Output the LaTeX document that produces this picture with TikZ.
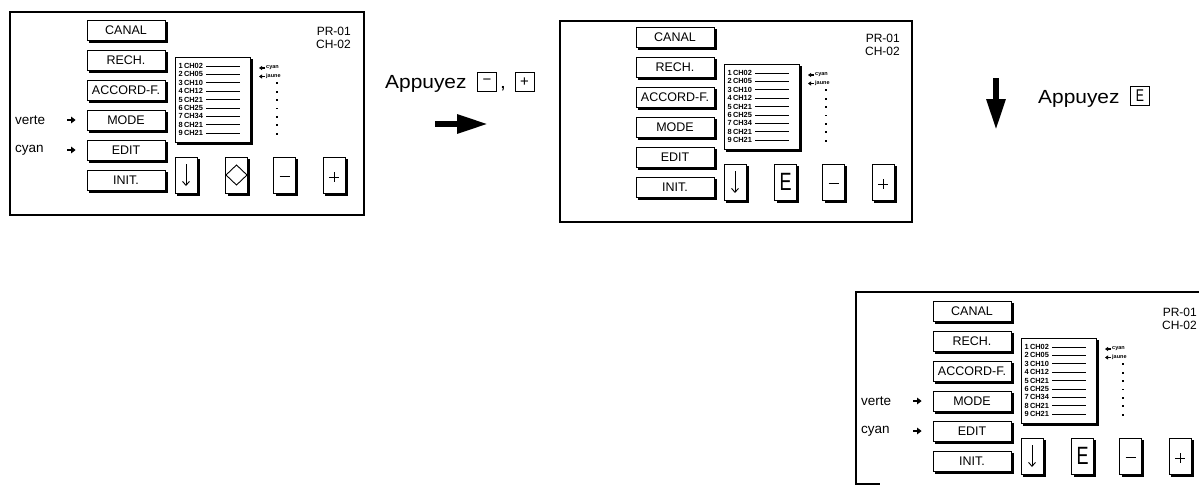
\documentclass[tikz,border=0pt]{standalone}
\usepackage{fontspec}
\setmainfont{Liberation Sans}
\newfontfamily\widefont[FakeStretch=1.1]{Liberation Sans}
\newfontfamily\narrowfont[FakeStretch=0.72]{Liberation Sans}
\usetikzlibrary{arrows.meta,calc}

\tikzset{
  frame/.style={line width=1.1pt},
  btn/.style={draw, line width=0.8pt, minimum width=78pt, minimum height=20pt, inner sep=0pt,
    font=\fontsize{12.5}{12.5}\selectfont},
  keybtn/.style={draw, line width=0.8pt, minimum width=22pt, minimum height=36pt, inner sep=0pt},
  listbox/.style={draw, line width=0.8pt, minimum width=75pt, minimum height=85pt, inner sep=0pt},
  listtxt/.style={inner sep=0pt, anchor=west, font=\fontsize{7.4}{7.4}\bfseries},
  listline/.style={line width=0.8pt},
  tinytxt/.style={inner sep=0pt, anchor=west, font=\fontsize{5.5}{5.5}\bfseries},
  tinyarrow/.style={line width=1.1pt, -{Triangle[length=3pt,width=4pt]}},
  lbl/.style={inner sep=0pt, anchor=west, font=\fontsize{13.5}{13.5}\selectfont},
  markarrow/.style={line width=1.8pt, -{Triangle[length=4.5pt,width=6.5pt]}, shorten >=11pt},
  prtxt/.style={inner sep=0pt, anchor=east, font=\fontsize{12}{12}\selectfont},
  shadowline/.style={line width=2.2pt},
  glyph/.style={line width=0.9pt},
  apptxt/.style={inner sep=0pt, anchor=base west, font=\widefont\fontsize{19}{19}\selectfont},
  smallkey/.style={draw, line width=0.9pt, minimum width=19pt, minimum height=19pt, inner sep=0pt,
    font=\fontsize{15}{15}\selectfont},
  bigarrow/.style={line width=6pt, -{Triangle[length=31pt,width=18pt]}},
}

\newcommand\shadowof[1]{%
  \draw[shadowline] ([xshift=1pt,yshift=-2.5pt]#1.north east) -- ([xshift=1pt,yshift=-1pt]#1.south east)
    -- ([xshift=2.5pt,yshift=-1pt]#1.south west);}

% #1 prefix, #2 dx, #3 dy, #4 content of second key
\newcommand\drawpanel[4]{%
\begin{scope}[shift={(#2,#3)}]
  \node[btn] (#1canal) at (126,30) {CANAL};
  \node[btn] (#1rech)  at (126,60) {RECH.};
  \node[btn] (#1acc)   at (126,90) {ACCORD-F.};
  \node[btn] (#1mode)  at (126,120) {MODE};
  \node[btn] (#1edit)  at (126,150) {EDIT};
  \node[btn] (#1init)  at (126,180) {INIT.};
  \foreach \b in {canal,rech,acc,mode,edit,init} {\shadowof{#1\b}}
  \node[listbox] (#1list) at (212.5,99.5) {};
  \shadowof{#1list}
  \foreach \n/\c [count=\i from 0] in {1/CH02,2/CH05,3/CH10,4/CH12,5/CH21,6/CH25,7/CH34,8/CH21,9/CH21} {
    \node[listtxt] (#1row\n) at (178.5,{66+8.4*\i}) {\n\,\c};
    \draw[listline] ([xshift=3pt]#1row\n.east) -- (240,{66+8.4*\i});
  }
  \node[tinytxt] (#1cy) at (266,68) {cyan};
  \node[tinytxt] (#1ja) at (266,76.5) {jaune};
  \draw[tinyarrow] ([xshift=-1pt]#1cy.west) -- ([xshift=-7pt]#1cy.west);
  \draw[tinyarrow] ([xshift=-1pt]#1ja.west) -- ([xshift=-7pt]#1ja.west);
  \foreach \i in {2,...,8} {\fill (276.3,{65.5+8.4*\i}) rectangle ++(1.6,1.8);}
  \node[keybtn] (#1down)  at (186,175) {};
  \node[keybtn,font=\narrowfont\fontsize{25}{25}\selectfont] (#1mid) at (236.5,175) {#4};
  \node[keybtn] (#1minus) at (284.5,175) {};
  \node[keybtn] (#1plus)  at (334,175) {};
  \foreach \k in {down,mid,minus,plus} {\shadowof{#1\k}}
  \draw[glyph, -{Straight Barb[length=4pt,width=7pt]}] ([yshift=11pt]#1down.center) -- ([yshift=-11pt]#1down.center);
  \draw[glyph] ([xshift=-5pt,yshift=-1pt]#1minus.center) -- ([xshift=5pt,yshift=-1pt]#1minus.center);
  \draw[glyph] ([xshift=-5pt,yshift=-2pt]#1plus.center) -- ([xshift=5pt,yshift=-2pt]#1plus.center);
  \draw[glyph] ([yshift=3pt]#1plus.center) -- ([yshift=-7pt]#1plus.center);
  \node[prtxt] (#1pr) at (351,31) {PR-01};
  \node[prtxt] (#1ch) at (351,44) {CH-02};
\end{scope}}

\newcommand\drawlabels[3]{%
\begin{scope}[shift={(#2,#3)}]
  \node[lbl] (#1verte) at (15,120) {verte};
  \node[lbl] (#1cyanl) at (15,150) {cyan};
  \coordinate (#1va) at (67,120);
  \coordinate (#1ca) at (67,150);
  \draw[markarrow] (#1va) -- (#1mode.west);
  \draw[markarrow] (#1ca) -- (#1edit.west);
\end{scope}}

\begin{document}
\begin{tikzpicture}[x=1pt,y=-1pt]
  \fill[white] (0,0) rectangle (1199,493);
  \useasboundingbox (0,0) rectangle (1199,493);

  % panel 1
  \draw[frame] (10,12) rectangle (364,215);
  \draw[line width=2pt] (364,12) -- (364,215);
  \drawpanel{p1}{0}{0}{}
  \draw[glyph] ([yshift=10pt]p1mid.center) -- ([xshift=10.5pt]p1mid.center)
     -- ([yshift=-10pt]p1mid.center) -- ([xshift=-10.5pt]p1mid.center) -- cycle;
  \drawlabels{p1}{0}{0}

  % panel 2
  \draw[frame] (560,21) rectangle (912,222);
  \draw[line width=2pt] (912,21) -- (912,222);
  \drawpanel{p2}{549}{7}{E}

  % panel 3
  \draw[frame] (1199,292) -- (856,292) -- (856,484) -- (880,484);
  \drawpanel{p3}{846}{281}{E}
  \drawlabels{p3}{846}{281}

  % instruction 1
  \node[apptxt] (app1) at (385,88) {Appuyez};
  \node[smallkey] (kminus) at (487,82) {−};
  \node[apptxt] (comma) at (500,88) {,};
  \node[smallkey] (kplus) at (524.5,82) {+};
  \coordinate (ra1) at (435,124);
  \coordinate (ra2) at (488,124);
  \draw[bigarrow] (ra1) -- (ra2);

  % instruction 2
  \node[apptxt] (app2) at (1038,103) {Appuyez};
  \node[smallkey, font=\narrowfont\fontsize{17}{17}\selectfont] (ke) at (1140,96) {E};
  \coordinate (da1) at (996,78);
  \coordinate (da2) at (996,130);
  \draw[bigarrow] (da1) -- (da2);
\end{tikzpicture}
\end{document}
